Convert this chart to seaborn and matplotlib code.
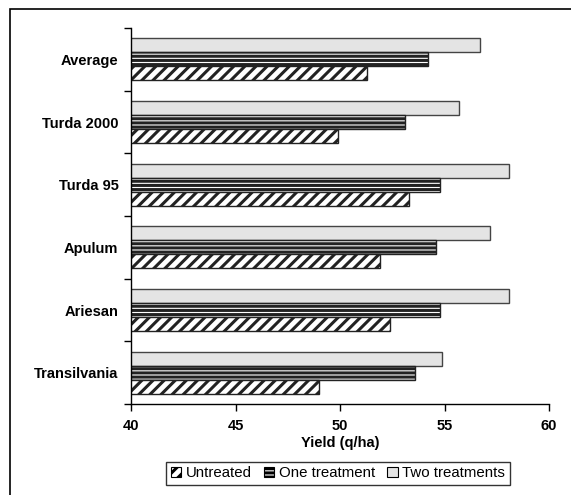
import matplotlib.pyplot as plt
import pandas as pd
import seaborn as sns
from matplotlib.patches import Patch, Rectangle

# Data (yield, q/ha)
VARIETIES = ['Average', 'Turda 2000', 'Turda 95', 'Apulum', 'Ariesan', 'Transilvania']
UNTREATED = [51.3, 49.9, 53.3, 51.9, 52.4, 49.0]
ONE_TREATMENT = [54.2, 53.1, 54.8, 54.6, 54.8, 53.6]
TWO_TREATMENTS = [56.7, 55.7, 58.1, 57.2, 58.1, 54.9]
SERIES = ['Untreated', 'One treatment', 'Two treatments']

STYLE = {
    'Untreated': dict(facecolor='white', hatch='///'),
    'One treatment': dict(facecolor='white', hatch='----'),
    'Two treatments': dict(facecolor='#e4e4e4', hatch=None),
}

sns.set_style('white')
plt.rcParams['font.family'] = ['Liberation Sans', 'DejaVu Sans']
plt.rcParams['hatch.linewidth'] = 2.2
plt.rcParams['hatch.color'] = 'black'
plt.rcParams['text.color'] = 'black'
plt.rcParams['xtick.color'] = 'black'
plt.rcParams['ytick.color'] = 'black'

df = pd.DataFrame({'Variety': VARIETIES, 'Untreated': UNTREATED,
                   'One treatment': ONE_TREATMENT, 'Two treatments': TWO_TREATMENTS})
df = df.melt('Variety', var_name='Series', value_name='Yield')

fig = plt.figure(figsize=(5.71, 4.95), dpi=100)
ax = fig.add_axes([131 / 571, 91 / 495, 418 / 571, 376 / 495])

hue_order = ['Two treatments', 'One treatment', 'Untreated']
sns.barplot(data=df, y='Variety', x='Yield', hue='Series', order=VARIETIES,
            hue_order=hue_order, orient='h', width=0.67, gap=0, ax=ax,
            legend=False, err_kws={'linewidth': 0})

for name, cont in zip(hue_order, ax.containers):
    for bar in cont:
        bar.set_facecolor(STYLE[name]['facecolor'])
        bar.set_edgecolor('#222222' if name != 'Two treatments' else '#444444')
        bar.set_linewidth(1.0)
        if STYLE[name]['hatch']:
            bar.set_hatch(STYLE[name]['hatch'])

ax.set_xlim(40, 60)
ax.set_xticks([40, 45, 50, 55, 60])
ax.set_ylim(len(VARIETIES) - 0.5, -0.5)
ax.set_yticks(range(len(VARIETIES)))
ax.set_yticks([i - 0.5 for i in range(len(VARIETIES) + 1)], minor=True)
ax.tick_params(axis='y', which='both', left=True)
ax.tick_params(axis='y', which='major', length=0, pad=9, labelsize=10.5, labelcolor='black')
ax.tick_params(axis='y', which='minor', length=5, width=1, color='black', direction='out')
ax.tick_params(axis='x', bottom=True, length=5, width=1, color='black', direction='out', pad=6,
               labelsize=10.5, labelcolor='black')
for lab in ax.get_yticklabels() + ax.get_xticklabels():
    lab.set_fontweight('bold')
ax.set_xlabel('Yield (q/ha)', fontsize=10.5, fontweight='bold', labelpad=2, color='black')
ax.set_ylabel('')
for side in ['top', 'right']:
    ax.spines[side].set_visible(False)
for side in ['left', 'bottom']:
    ax.spines[side].set_color('black')
    ax.spines[side].set_linewidth(1.0)

handles = [Patch(facecolor=STYLE[s]['facecolor'], hatch=STYLE[s]['hatch'],
                 edgecolor='black', linewidth=0.8) for s in SERIES]
leg = fig.legend(handles, SERIES, loc='center', bbox_to_anchor=(338 / 571, 1 - 473 / 495),
                 ncol=3, frameon=True, fancybox=False, fontsize=10.8, handlelength=0.7,
                 handleheight=0.7, handletextpad=0.3, columnspacing=0.8, borderpad=0.3)
leg.get_frame().set_edgecolor('black')
leg.get_frame().set_linewidth(1.0)

# outer chart frame (cut off at right and bottom)
fig.patches.append(Rectangle((10 / 571, -0.1), 1.2, 1.1 - 9 / 495, transform=fig.transFigure,
                             fill=False, edgecolor='black', linewidth=1.2, clip_on=False))

fig.savefig('out.png', dpi=100)
